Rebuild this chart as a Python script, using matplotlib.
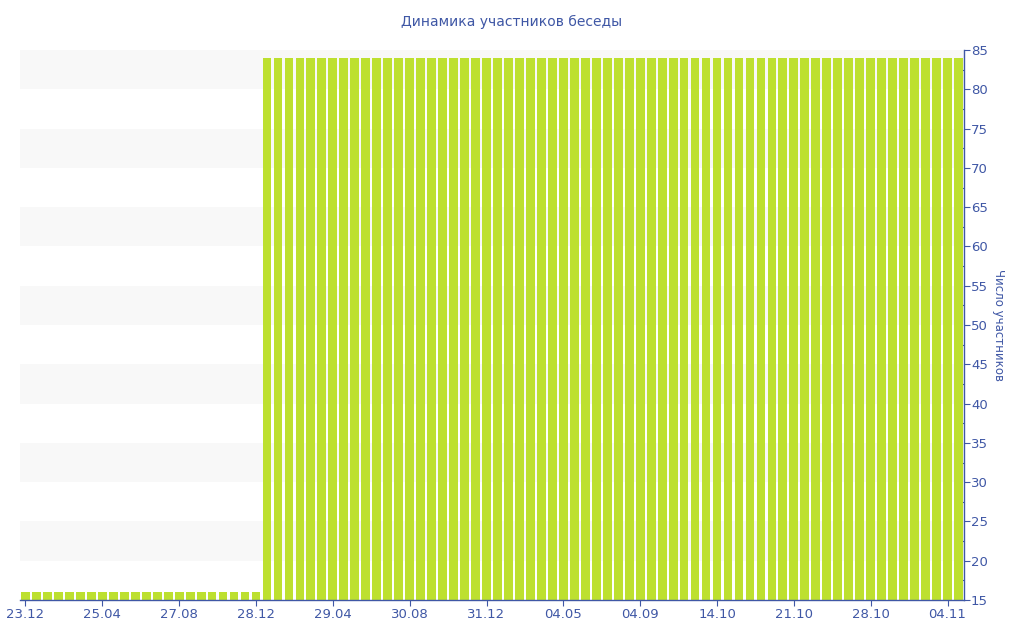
import matplotlib
matplotlib.use("Agg")
import matplotlib.pyplot as plt
from matplotlib.ticker import MultipleLocator

members = [
    16, 16, 16, 16, 16, 16, 16, 16, 16, 16, 16,
    16, 16, 16, 16, 16, 16, 16, 16, 16, 16, 16,
    84, 84, 84, 84, 84, 84, 84, 84, 84, 84, 84, 84, 84, 84, 84, 84,
    84, 84, 84, 84, 84, 84, 84, 84, 84, 84, 84, 84, 84, 84, 84, 84,
    84, 84, 84, 84, 84, 84, 84, 84, 84, 84, 84, 84, 84, 84, 84, 84,
    84, 84, 84, 84, 84, 84, 84, 84, 84, 84, 84, 84, 84, 84, 84, 84,
]
tick_labels = ["23.12", "25.04", "27.08", "28.12", "29.04", "30.08", "31.12",
               "04.05", "04.09", "14.10", "21.10", "28.10", "04.11"]
tick_index = [0, 7, 14, 21, 28, 35, 42, 49, 56, 63, 70, 77, 84]

BLUE = "#3f57a5"
BAR = "#bde02f"

fig = plt.figure(figsize=(10.24, 6.4), dpi=100)
ax = fig.add_axes([20/1024, 40/640, 944/1024, 550/640])

ymin, ymax = 15, 85
for lo in range(20, 85, 10):
    ax.axhspan(lo, lo + 5, color="#f8f8f8", zorder=0, lw=0)

x = list(range(len(members)))
ax.bar(x, members, width=0.8, color=BAR, zorder=2)

ax.set_xlim(-0.5, len(members) - 0.5)
ax.set_ylim(ymin, ymax)

ax.yaxis.tick_right()
ax.yaxis.set_label_position("right")
ax.yaxis.set_major_locator(MultipleLocator(5))
ax.yaxis.set_minor_locator(MultipleLocator(2.5))
ax.tick_params(axis="y", which="major", colors=BLUE, labelsize=9.5, length=4, width=0.8, pad=1)
ax.tick_params(axis="y", which="minor", colors=BLUE, length=3, width=0.8, direction="in")
ax.set_ylabel("Число участников", color=BLUE, fontsize=8.5, rotation=270, labelpad=12)

ax.set_xticks(tick_index)
ax.set_xticklabels(tick_labels)
ax.tick_params(axis="x", colors=BLUE, labelsize=9.5, length=4, width=0.8, pad=2)

for s in ["top", "left"]:
    ax.spines[s].set_visible(False)
for s in ["right", "bottom"]:
    ax.spines[s].set_color(BLUE)
    ax.spines[s].set_linewidth(1.0)

fig.text(512/1024, 1 - 22/640, "Динамика участников беседы", color=BLUE,
         fontsize=10, ha="center", va="center")

fig.savefig("out.png", dpi=100, facecolor="white")
